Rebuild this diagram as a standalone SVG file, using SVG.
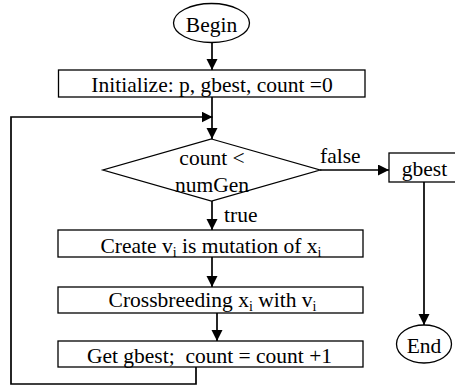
<svg xmlns="http://www.w3.org/2000/svg" width="455" height="387" viewBox="0 0 455 387">
<style>
text{font-family:"Liberation Serif","Times New Roman",serif;font-size:21.5px;fill:#000}
.c{text-anchor:middle}
.sub{font-size:14px}
.shape{fill:#fff;stroke:#000;stroke-width:1.3}
.edge{fill:none;stroke:#000;stroke-width:1.7}
</style>
<defs>
<marker id="ah" markerUnits="userSpaceOnUse" markerWidth="12" markerHeight="12" refX="11" refY="5.5" orient="auto">
<path d="M0,0 L11,5.5 L0,11 z" fill="#000"/>
</marker>
</defs>
<g id="connectors">
<path class="edge" d="M212,42.5 V70" marker-end="url(#ah)"/>
<path class="edge" d="M212,97 V139" marker-end="url(#ah)"/>
<path class="edge" d="M196,367 V384 H11 V117 H212.5" marker-end="url(#ah)"/>
<path class="edge" d="M212,201 V230" marker-end="url(#ah)"/>
<path class="edge" d="M212,257 V287" marker-end="url(#ah)"/>
<path class="edge" d="M217,313 V341" marker-end="url(#ah)"/>
<path class="edge" d="M320,170 H389" marker-end="url(#ah)"/>
<path class="edge" d="M424,182 V325" marker-end="url(#ah)"/>
<text x="224" y="222">true</text>
<text x="320" y="163">false</text>
</g>
<g id="begin">
<ellipse class="shape" cx="211.5" cy="23" rx="38" ry="19.5"/>
<text class="c" x="211.5" y="31.5">Begin</text>
</g>
<g id="init">
<rect class="shape" x="58.5" y="70" width="306.5" height="27"/>
<text class="c" x="212" y="92">Initialize: p, gbest, count =0</text>
</g>
<g id="decision">
<polygon class="shape" points="211.5,139 320,170 211.5,201 103,170"/>
<text class="c" x="212" y="165">count &lt;</text>
<text class="c" x="212" y="192">numGen</text>
</g>
<g id="gbest">
<rect class="shape" x="389" y="153" width="70" height="29"/>
<text class="c" x="424.5" y="176">gbest</text>
</g>
<g id="create">
<rect class="shape" x="58" y="230" width="305" height="27"/>
<text class="c" x="211" y="253">Create v<tspan class="sub" dy="4">i</tspan><tspan dy="-4"> is mutation of x</tspan><tspan class="sub" dy="4">i</tspan></text>
</g>
<g id="cross">
<rect class="shape" x="58" y="287" width="305" height="26"/>
<text class="c" x="212.5" y="307">Crossbreeding x<tspan class="sub" dy="4">i</tspan><tspan dy="-4"> with v</tspan><tspan class="sub" dy="4">i</tspan></text>
</g>
<g id="get">
<rect class="shape" x="58" y="341" width="305" height="26"/>
<text class="c" x="209.5" y="363" xml:space="preserve">Get gbest;  count = count +1</text>
</g>
<g id="end">
<ellipse class="shape" cx="424" cy="344" rx="27.5" ry="19"/>
<text class="c" x="424" y="353">End</text>
</g>
</svg>
